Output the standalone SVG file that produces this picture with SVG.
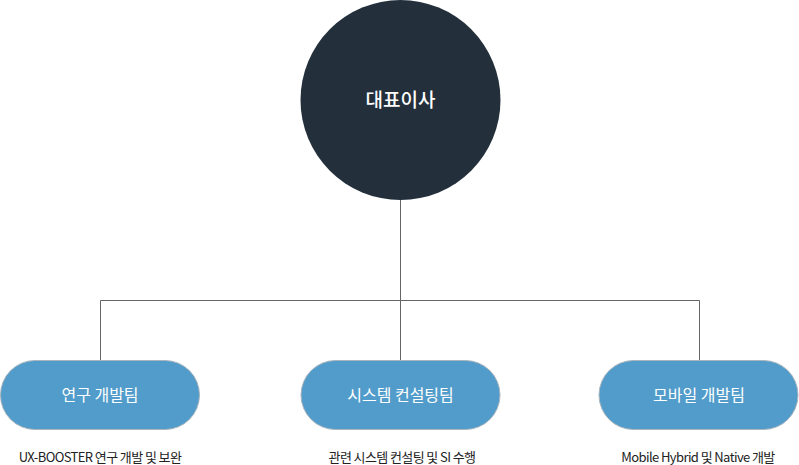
<svg xmlns="http://www.w3.org/2000/svg" width="799" height="465" viewBox="0 0 799 465">
<style>
.pill{fill:#519cca;stroke:#a9b4bd;stroke-width:1}
.pt{fill:#fff;font-family:"Noto Sans CJK KR","Noto Sans",sans-serif;font-size:16px;text-anchor:middle}
.ds{fill:#222;font-family:"Noto Sans CJK KR","Noto Sans",sans-serif;font-size:13px;text-anchor:middle;letter-spacing:-0.6px}
.ln{stroke:#666;stroke-width:1;fill:none}
</style>
<rect width="799" height="465" fill="#fff"/>
<g id="connectors">
<path class="ln" d="M400.5 200V360M100.5 360V300.5H699.5V360"/>
</g>
<g id="ceo">
<circle cx="400.5" cy="100" r="100" fill="#232f3b"/>
<text x="400.5" y="107" fill="#fff" font-family="'Noto Sans CJK KR','Noto Sans',sans-serif" font-size="19" font-weight="500" text-anchor="middle">대표이사</text>
</g>
<g id="team1">
<rect class="pill" x="0.5" y="360.5" width="199" height="69" rx="34.5"/>
<text class="pt" x="100" y="400.5">연구 개발팀</text>
<text class="ds" x="100" y="462">UX-BOOSTER 연구 개발 및 보완</text>
</g>
<g id="team2">
<rect class="pill" x="301" y="360.5" width="199" height="69" rx="34.5"/>
<text class="pt" x="400.5" y="400.5">시스템 컨설팅팀</text>
<text class="ds" x="402" y="462">관련 시스템 컨설팅 및 SI 수행</text>
</g>
<g id="team3">
<rect class="pill" x="599" y="360.5" width="199" height="69" rx="34.5"/>
<text class="pt" x="699" y="400.5">모바일 개발팀</text>
<text class="ds" x="698" y="462">Mobile Hybrid 및 Native 개발</text>
</g>
</svg>
